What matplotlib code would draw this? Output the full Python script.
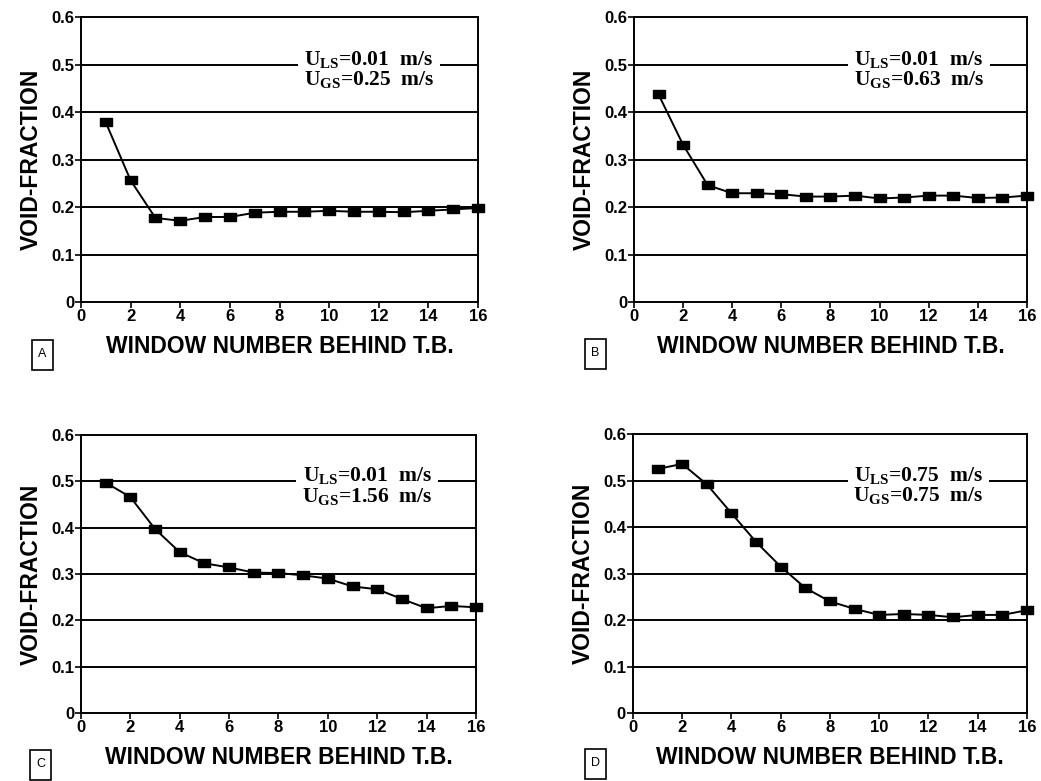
import matplotlib
matplotlib.use("Agg")
import matplotlib.pyplot as plt
from matplotlib.patches import Rectangle

windows = list(range(1, 17))
void_a = [0.378, 0.256, 0.177, 0.171, 0.179, 0.179, 0.188, 0.190, 0.190, 0.192, 0.190, 0.190, 0.189, 0.192, 0.195, 0.198]
void_b = [0.437, 0.331, 0.246, 0.229, 0.229, 0.227, 0.222, 0.222, 0.224, 0.218, 0.220, 0.224, 0.224, 0.219, 0.220, 0.224]
void_c = [0.497, 0.466, 0.397, 0.347, 0.323, 0.314, 0.303, 0.302, 0.297, 0.290, 0.273, 0.267, 0.246, 0.226, 0.231, 0.228]
void_d = [0.525, 0.536, 0.492, 0.430, 0.368, 0.315, 0.269, 0.240, 0.224, 0.211, 0.213, 0.211, 0.206, 0.211, 0.211, 0.221]

uls = ["0.01", "0.01", "0.01", "0.75"]
ugs = ["0.25", "0.63", "1.56", "0.75"]
panel_labels = ["A", "B", "C", "D"]
xticks = [0, 2, 4, 6, 8, 10, 12, 14, 16]
yticks = [0, 0.1, 0.2, 0.3, 0.4, 0.5, 0.6]
ytick_labels = ["0", "0.1", "0.2", "0.3", "0.4", "0.5", "0.6"]

plt.rcParams['mathtext.fontset'] = 'custom'
plt.rcParams['mathtext.rm'] = 'Liberation Serif:bold'
plt.rcParams['mathtext.it'] = 'Liberation Serif:bold'
plt.rcParams['mathtext.bf'] = 'Liberation Serif:bold'

W, H = 1041, 781
fig = plt.figure(figsize=(W / 100, H / 100), dpi=100)
positions = [
    [0.0778, 0.6133, 0.3814, 0.3649],
    [0.609, 0.6133, 0.3775, 0.3649],
    [0.0778, 0.0871, 0.3794, 0.356],
    [0.608, 0.0871, 0.3785, 0.357],
]
box_px = [(32, 340), (585, 339), (30, 750), (585, 749)]
series = [void_a, void_b, void_c, void_d]
rect_marker = [(-1, -0.7), (1, -0.7), (1, 0.7), (-1, 0.7), (-1, -0.7)]

for pos, vals, ul, ug, lab, bp in zip(positions, series, uls, ugs, panel_labels, box_px):
    ax = fig.add_axes(pos)
    ax.set_xlim(0, 16)
    ax.set_ylim(0, 0.6)
    for g in yticks[1:-1]:
        ax.axhline(g, color='black', lw=1.4, zorder=1)
    ax.plot(windows, vals, color='black', lw=1.4, marker=rect_marker, markersize=8,
            markerfacecolor='black', zorder=4, clip_on=False)
    ax.set_xticks(xticks)
    ax.set_yticks(yticks)
    ax.set_yticklabels(ytick_labels)
    ax.tick_params(direction='out', length=4, width=1.2, labelsize=12)
    for t in ax.get_xticklabels() + ax.get_yticklabels():
        t.set_fontweight('bold')
        t.set_family('Liberation Sans')
    ax.tick_params(axis='x', pad=1)
    ax.tick_params(axis='y', pad=1)
    for s in ax.spines.values():
        s.set_linewidth(1.4)
    ax.set_ylabel("VOID-FRACTION", fontsize=16.5, fontweight='bold',
                  family='Liberation Sans', labelpad=6)
    ax.set_xlabel("WINDOW NUMBER BEHIND T.B.", fontsize=16.5, fontweight='bold',
                  family='Liberation Sans', labelpad=8)
    txt = r"U$_{\mathrm{LS}}$=%s  m/s" % ul + "\n" + r"U$_{\mathrm{GS}}$=%s  m/s" % ug
    ax.text(11.6, 0.49, txt, ha='center', va='center', fontsize=15.5,
            family='Liberation Serif', fontweight='bold', linespacing=0.95,
            bbox=dict(facecolor='white', edgecolor='none', pad=4), zorder=3)
    bx, by = bp
    fig.patches.append(Rectangle((bx / W, 1 - (by + 30) / H), 21 / W, 30 / H,
                                 transform=fig.transFigure, fill=False,
                                 edgecolor='black', lw=1.2))
    fig.text((bx + 10.5) / W, 1 - (by + 14) / H, lab, ha='center', va='center',
             fontsize=9, family='Liberation Sans')

fig.savefig("out.png", dpi=100)
